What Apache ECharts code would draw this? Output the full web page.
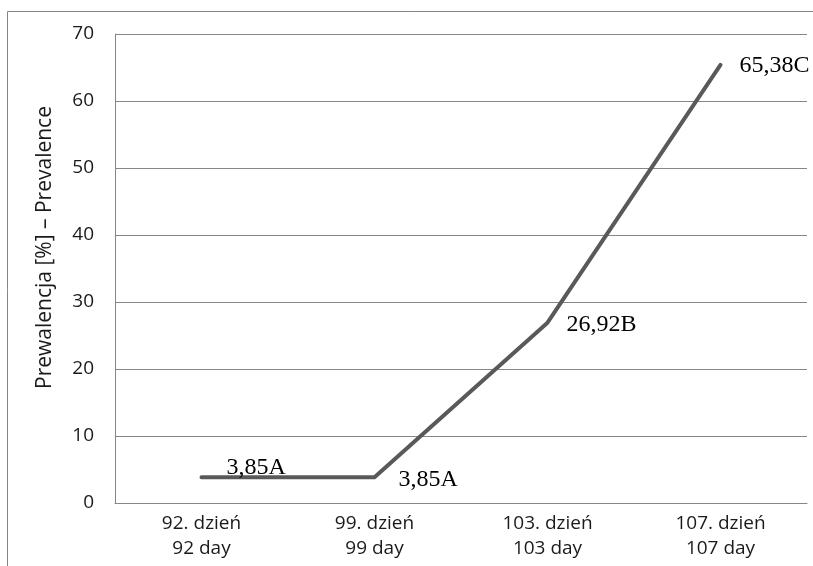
<!DOCTYPE html>
<html><head><meta charset="utf-8">
<script src="https://cdn.jsdelivr.net/npm/echarts@6/dist/echarts.min.js"></script>
<style>html,body{margin:0;padding:0;background:#fff}#c{width:813px;height:566px}</style>
</head><body><div id="c"></div>
<script>
const categories = ['92. dzień\n92 day', '99. dzień\n99 day', '103. dzień\n103 day', '107. dzień\n107 day'];
const values = [3.85, 3.85, 26.92, 65.38];
const letters = ['A', 'A', 'B', 'C'];
const yTicks = {min: 0, max: 70, interval: 10};
const labelShift = [[19, -10], [18, 2], [13, 2], [13, 1]];

const chart = echarts.init(document.getElementById('c'), null, {renderer: 'canvas'});
chart.setOption({
  animation: false,
  backgroundColor: '#fff',
  graphic: [{type: 'rect', shape: {x: 7.5, y: 11.5, width: 900, height: 700}, style: {fill: 'none', stroke: '#868686', lineWidth: 1}, silent: true}],
  grid: {left: 115, right: 6, top: 34, bottom: 63, containLabel: false},
  xAxis: {
    type: 'category', data: categories, boundaryGap: true,
    axisLine: {lineStyle: {color: '#868686', width: 1}},
    axisTick: {show: false},
    axisLabel: {color: '#1a1a1a', fontFamily: 'Open Sans', fontSize: 19, lineHeight: 25, margin: 8}
  },
  yAxis: {
    type: 'value', min: yTicks.min, max: yTicks.max, interval: yTicks.interval,
    name: 'Prewalencja [%] – Prevalence', nameLocation: 'middle', nameGap: 59, nameRotate: 90,
    nameTextStyle: {color: '#1a1a1a', fontFamily: 'Open Sans', fontSize: 21, padding: [0, 0, 0, 42]},
    axisLine: {show: true, lineStyle: {color: '#868686', width: 1}},
    axisTick: {show: false},
    splitLine: {lineStyle: {color: '#868686', width: 1}},
    axisLabel: {color: '#1a1a1a', fontFamily: 'Open Sans', fontSize: 19, margin: 21}
  },
  series: [{
    type: 'line',
    data: values,
    symbol: 'circle', symbolSize: 2, showSymbol: true,
    itemStyle: {color: '#595959'},
    lineStyle: {color: '#595959', width: 4, cap: 'round', join: 'round'},
    labelLayout: p => ({dx: labelShift[p.dataIndex][0], dy: labelShift[p.dataIndex][1], hideOverlap: false}),
    label: {
      show: true, position: 'right', distance: 5,
      fontFamily: 'Liberation Serif', fontSize: 24, color: '#000',
      formatter: p => String(values[p.dataIndex]).replace('.', ',') + letters[p.dataIndex]
    }
  }]
});
</script></body></html>
